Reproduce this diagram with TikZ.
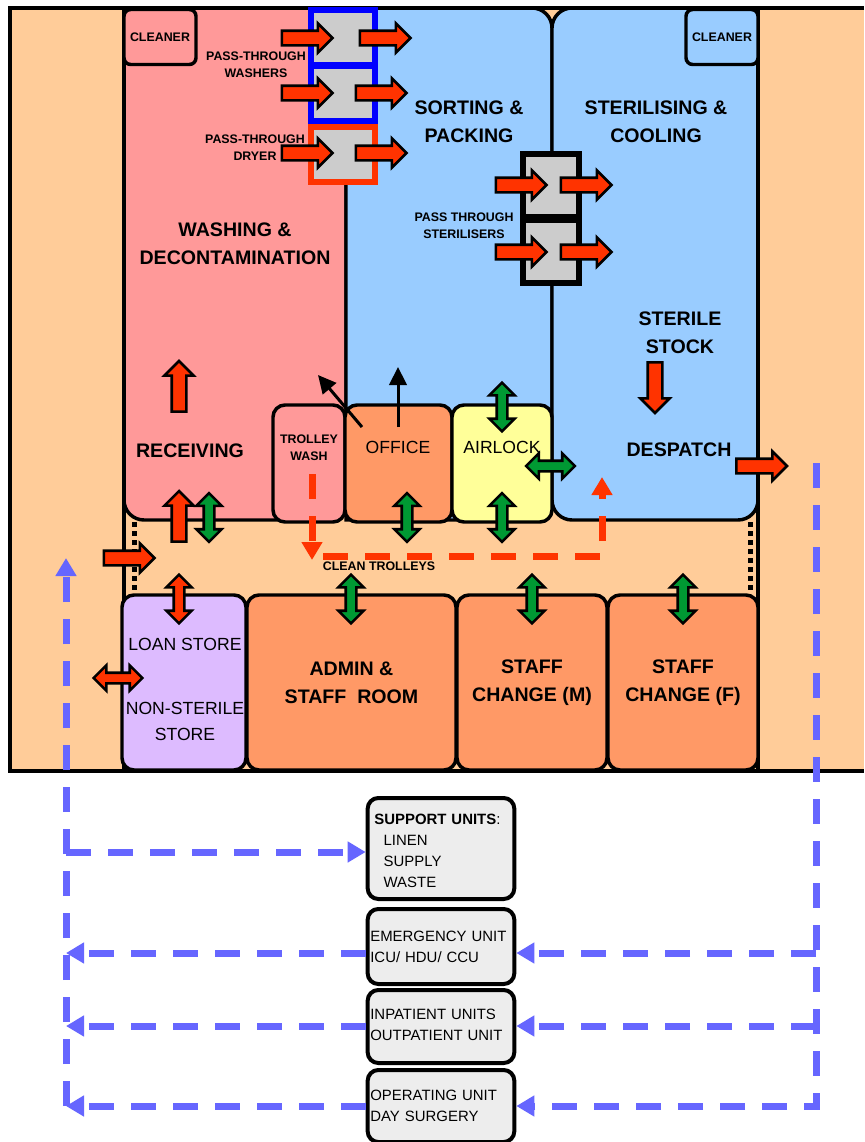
\documentclass[tikz,border=0pt]{standalone}
\usepackage{fontspec}
\setmainfont{Liberation Sans}
\usetikzlibrary{positioning,calc,shapes.arrows,arrows.meta}
\definecolor{peach}{HTML}{FFCC99}
\definecolor{pinkroom}{HTML}{FF9999}
\definecolor{blueroom}{HTML}{99CCFF}
\definecolor{orangeroom}{HTML}{FF9966}
\definecolor{lilacroom}{HTML}{DDBBFF}
\definecolor{yellowroom}{HTML}{FFFF99}
\definecolor{unitgrey}{HTML}{EDEDED}
\definecolor{flowred}{HTML}{FF3300}
\definecolor{flowgreen}{HTML}{009933}
\definecolor{flowblue}{HTML}{6666FF}
\tikzset{wh/.style 2 args={minimum width=#1*0.75pt,minimum height=#2*0.75pt},
         room/.style={draw,line width=2.6pt,rounded corners=9pt,inner sep=0pt,align=center},
         wall/.style={line width=2.6pt,rounded corners=15pt},
         unit/.style={draw,fill=unitgrey,line width=3pt,rounded corners=8pt,text width=106pt,inner xsep=2pt,inner ysep=0pt,align=left,font=\fontsize{11.2}{15.75}\selectfont},
         machine/.style={draw,fill=black!20,line width=4.5pt,wh={64}{55}},
         big/.style={font=\fontsize{14.7}{21}\selectfont\bfseries,align=center},
         mid/.style={font=\fontsize{13.2}{19.5}\selectfont,align=center},
         small/.style={font=\fontsize{9.3}{13}\selectfont\bfseries,align=center},
         redarrow/.style={single arrow,draw,fill=flowred,line width=1.9pt,inner xsep=0pt,inner ysep=4.5pt,single arrow head extend=5.5pt,minimum height=38pt},
         reddouble/.style={double arrow,draw,fill=flowred,line width=1.9pt,inner xsep=0pt,inner ysep=3pt,double arrow head extend=5.5pt,minimum height=36.5pt},
         greendouble/.style={reddouble,fill=flowgreen},
         reddash/.style={flowred,line width=5.25pt,dash pattern=on 18.75pt off 12.75pt,-{Triangle[length=13.5pt,width=15pt]}},
         bluedash/.style={reddash,flowblue},
         blackline/.style={line width=2.25pt,-{Triangle[length=13.5pt,width=13pt]}}
}
\begin{document}
\begin{tikzpicture}[x=0.75pt,y=-0.75pt]
\useasboundingbox (0,0) rectangle (864,1142);

% building
\fill[peach] (10,8) rectangle (864,771);
\draw[wall,fill=pinkroom] (124,8) -- (124,520) -- (346,520) [sharp corners] -- (346,8) -- cycle;
\draw[wall,fill=blueroom] (346,8) -- (552,8) -- (552,520) [sharp corners] -- (346,520) -- cycle;
\draw[wall,fill=blueroom] (560,8) -- (552,8) -- (552,520) -- (758,520) [sharp corners] -- (758,8) -- cycle;
\draw[line width=2.6pt] (864,8) -- (10,8) -- (10,771) -- (864,771);
\draw[line width=2.6pt] (124,8) -- (124,771);
\draw[line width=2.6pt] (758,8) -- (758,771);
\draw[line width=3.75pt,dash pattern=on 3.5pt off 3.25pt] (134,522) -- (134,592);
\draw[line width=3.75pt,dash pattern=on 3.5pt off 3.25pt] (750,522) -- (750,592);

% rooms
\node[room,fill=pinkroom,wh={72}{55},rounded corners=5pt,small] (cleanerwash) at (160,37) {CLEANER};
\node[room,fill=blueroom,wh={72}{55},rounded corners=5pt,small] (cleanersterile) at (722,37) {CLEANER};
\node[room,fill=pinkroom,wh={72}{117},small] (trolleywash) at (309,463.5) {};
\node[room,fill=orangeroom,wh={107}{117}] (office) at (398.5,463.5) {};
\node[room,fill=yellowroom,wh={100}{117}] (airlock) at (502,463.5) {};
\node[room,fill=lilacroom,wh={124}{175}] (loanstore) at (184,682.5) {};
\node[room,fill=orangeroom,wh={209}{175},big] (admin) at (351.5,682.5) {ADMIN \&\\STAFF~~ROOM};
\node[room,fill=orangeroom,wh={150}{175},big] (changem) at (532,682.5) {STAFF\\CHANGE (M)};
\node[room,fill=orangeroom,wh={150}{175},big] (changef) at (683,682.5) {STAFF\\CHANGE (F)};

% machines
\node[machine,draw=blue] (washer1) at (343,37.5) {};
\node[machine,draw=blue] (washer2) at (343,93) {};
\node[machine,draw=flowred] (dryer) at (343,154) {};
\node[machine,draw=black,wh={56}{63}] (steriliser1) at (551,185) {};
\node[machine,draw=black,wh={56}{63}] (steriliser2) at (551,251) {};

% labels
\node[big] (washing) at (235,244) {WASHING \&\\DECONTAMINATION};
\node[big] (sorting) at (469,121.5) {SORTING \&\\PACKING};
\node[big] (sterilising) at (656,121.5) {STERILISING \&\\COOLING};
\node[big] (sterilestock) at (680,333) {STERILE\\STOCK};
\node[big] (receiving) at (190,451) {RECEIVING};
\node[big] (despatch) at (679,450) {DESPATCH};
\node[mid] (officelabel) at (398,447) {OFFICE};
\node[mid] (airlocklabel) at (502,447) {AIRLOCK};
\node[mid] (loanlabel) at (185,644) {LOAN STORE};
\node[mid] (nonsterile) at (185,721) {NON-STERILE\\STORE};
\node[small] (washerslabel) at (256,65) {PASS-THROUGH\\WASHERS};
\node[small] (dryerlabel) at (255,147.5) {PASS-THROUGH\\DRYER};
\node[small] (sterilisers) at (464,225.5) {PASS THROUGH\\STERILISERS};
\node[small] (trolleylabel) at (309,448) {TROLLEY\\WASH};
\node[small] (cleanlabel) at (379,566) {CLEAN TROLLEYS};

% red block arrows
\node[redarrow] (washerin1) at (303.5,38) {};
\node[redarrow] (washerout1) at (381.5,38) {};
\node[redarrow] (washerin2) at (303.5,93) {};
\node[redarrow] (washerout2) at (377.5,93) {};
\node[redarrow] (dryerin) at (303.5,153) {};
\node[redarrow] (dryerout) at (377.5,153) {};
\node[redarrow] (steriliserin1) at (517.5,185) {};
\node[redarrow] (steriliserout1) at (582.5,185) {};
\node[redarrow] (steriliserin2) at (517.5,252) {};
\node[redarrow] (steriliserout2) at (582.5,252) {};
\node[redarrow,rotate=90] (receivingup) at (179,390) {};
\node[redarrow,rotate=90] (receivingin) at (179,520) {};
\node[redarrow] (corridorin) at (125.5,558) {};
\node[redarrow,rotate=-90] (stockdown) at (655,384) {};
\node[redarrow] (despatchout) at (758,466) {};
\node[reddouble,rotate=90] (loanup) at (179,599) {};
\node[reddouble] (loanside) at (118,678) {};

% green block arrows
\node[greendouble,rotate=90] (receivinggreen) at (209,517.5) {};
\node[greendouble,rotate=90] (officegreen) at (407,517.5) {};
\node[greendouble,rotate=90] (airlocktop) at (502,407) {};
\node[greendouble,rotate=90] (airlockbottom) at (502,517.5) {};
\node[greendouble] (airlockside) at (550.5,466) {};
\node[greendouble,rotate=90] (admingreen) at (351,599) {};
\node[greendouble,rotate=90] (changemgreen) at (532,599) {};
\node[greendouble,rotate=90] (changefgreen) at (683,599) {};

% black arrows
\coordinate (officeleft) at (362,427);
\coordinate (washingin) at (318,375);
\coordinate (officeup) at (398,427);
\coordinate (sortingin) at (398,367);
\draw[blackline] (officeleft)--(washingin);
\draw[blackline] (officeup)--(sortingin);

% clean trolleys
\coordinate (trolleystart) at (312,474);
\coordinate (trolleyend) at (312,560);
\coordinate (cleanstart) at (323,556);
\coordinate (cleanend) at (602,477);
\draw[reddash] (trolleystart)--(trolleyend);
\draw[reddash] (cleanstart)-|(cleanend);

% units
\node[unit,minimum height=101*0.75pt] (support) at (441,848.5) {\rule{0pt}{12pt}\hspace*{3pt}\textbf{SUPPORT UNITS}:\\\hspace*{10pt}LINEN\\\hspace*{10pt}SUPPLY\\\hspace*{10pt}WASTE};
\node[unit,minimum height=75*0.75pt] (emergency) at (441,946.5) {EMERGENCY UNIT\\ICU/ HDU/ CCU};
\node[unit,minimum height=73*0.75pt] (inpatient) at (441,1026.5) {INPATIENT UNITS\\OUTPATIENT UNIT\rule[-3pt]{0pt}{0pt}};
\node[unit,minimum height=72*0.75pt] (operating) at (441,1106) {OPERATING UNIT\\DAY SURGERY};

% blue flows
\coordinate (rightbus) at (816,463);
\coordinate (leftbus) at (66,558);
\coordinate (levelsupport) at (66,852);
\coordinate (levelemergency) at (816,953);
\coordinate (levelinpatient) at (816,1026);
\coordinate (leveloperating) at (816,1106);
\draw[bluedash] (rightbus)--(leveloperating)--(leveloperating-|operating.east);
\draw[bluedash] (levelemergency)--(levelemergency-|emergency.east);
\draw[bluedash] (levelinpatient)--(levelinpatient-|inpatient.east);
\draw[bluedash] (levelemergency-|emergency.west)--(levelemergency-|leftbus);
\draw[bluedash] (levelinpatient-|inpatient.west)--(levelinpatient-|leftbus);
\draw[bluedash] (leveloperating-|operating.west)--(leveloperating-|leftbus);
\draw[bluedash] (leveloperating-|leftbus)--(leftbus);
\draw[bluedash] (levelsupport)--(levelsupport-|support.west);

\end{tikzpicture}
\end{document}
